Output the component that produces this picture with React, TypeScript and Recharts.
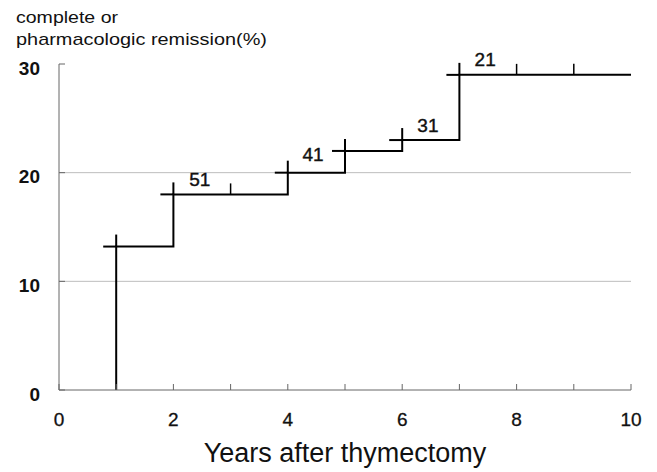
import React from 'react'
import {
  ComposedChart, Line, Scatter, XAxis, YAxis, CartesianGrid, ReferenceDot,
} from 'recharts'

// cumulative remission curve (step, drawn with vertical jumps)
const stepYears = [1, 1, 2, 4, 5, 6, 7, 10]
const stepRates = [0, 13.2, 18, 20, 22, 23, 29, 29]

// events (cross marks at each jump)
const eventYears = [1, 2, 4, 5, 6, 7]
const eventRates = [13.2, 18, 20, 22, 23, 29]

// censored (small ticks)
const censorYears = [3, 8, 9]
const censorRates = [18, 29, 29]

// numbers at risk
const riskLabels = ['51', '41', '31', '21']
const riskYears = [2.46, 4.44, 6.45, 7.45]
const riskRates = [19.4, 21.7, 24.4, 30.4]

const xTicks = [0, 1, 2, 3, 4, 5, 6, 7, 8, 9, 10]
const yTicks = [0, 10, 20, 30]
const gridValues = [10, 20]

const FONT = '"Liberation Sans", Arial, sans-serif'

const stepData = stepYears.map((x, i) => ({ x, y: stepRates[i] }))
const eventData = eventYears.map((x, i) => ({ x, y: eventRates[i] }))
const censorData = censorYears.map((x, i) => ({ x, y: censorRates[i] }))

function EventMark(props: any) {
  const { cx, cy } = props
  return (
    <g stroke="#000" strokeWidth={2} fill="none">
      <line x1={cx - 13} y1={cy} x2={cx} y2={cy} />
      <line x1={cx} y1={cy} x2={cx} y2={cy - 12} />
    </g>
  )
}

function CensorMark(props: any) {
  const { cx, cy } = props
  return <line x1={cx} y1={cy} x2={cx} y2={cy - 11} stroke="#000" strokeWidth={1.5} />
}

function YTick(props: any) {
  const { x, y, payload } = props
  return (
    <text x={x} y={y + 4} dy="0.355em" textAnchor="end" fontSize={19} fontWeight="bold"
      fill="#111" fontFamily={FONT}>
      {payload.value}
    </text>
  )
}

export default function App() {
  return (
    <div style={{ position: 'absolute', left: 0, top: 0, width: 657, height: 472, background: '#fff' }}>
      <ComposedChart width={657} height={472} margin={{ top: 64, right: 26, bottom: 0, left: 0 }}>
        <CartesianGrid vertical={false} horizontalValues={gridValues} stroke="#bdbdbd" strokeWidth={1} />
        <XAxis
          type="number" dataKey="x" domain={[0, 10]} ticks={xTicks} interval={0}
          tickFormatter={(v: number) => (v % 2 === 0 ? String(v) : '')}
          height={82} tickSize={-6} tickMargin={29}
          axisLine={{ stroke: '#666' }} tickLine={{ stroke: '#666' }}
          tick={{ fill: '#111', fontSize: 19, fontFamily: FONT, stroke: '#111', strokeWidth: 0.3 }}
          label={{ value: 'Years after thymectomy', position: 'insideBottom', offset: 10, fontSize: 27, fill: '#111', fontFamily: FONT }}
        />
        <YAxis
          type="number" dataKey="y" domain={[0, 30]} ticks={yTicks} interval={0}
          width={59} tickSize={-6} tickMargin={25}
          axisLine={{ stroke: '#666' }} tickLine={{ stroke: '#666' }}
          tick={<YTick />}
        />
        <Line
          data={stepData} dataKey="y" type="stepAfter" stroke="#000" strokeWidth={2}
          dot={false} activeDot={false} isAnimationActive={false}
        />
        <Scatter data={eventData} dataKey="y" shape={<EventMark />} isAnimationActive={false} />
        <Scatter data={censorData} dataKey="y" shape={<CensorMark />} isAnimationActive={false} />
        {riskLabels.map((t, i) => (
          <ReferenceDot
            key={t} x={riskYears[i]} y={riskRates[i]} r={0} ifOverflow="visible"
            fill="none" stroke="none"
            label={{ value: t, position: 'center', fontSize: 19, fill: '#111', stroke: '#111', strokeWidth: 0.4, fontFamily: FONT }}
          />
        ))}
      </ComposedChart>
      <svg width={657} height={60} style={{ position: 'absolute', left: 0, top: 0 }}>
        <text x={16} y={23} fontSize={17} fill="#111" fontFamily={FONT} textLength={102} lengthAdjust="spacingAndGlyphs">
          complete or
        </text>
        <text x={16} y={45} fontSize={17} fill="#111" fontFamily={FONT} textLength={251} lengthAdjust="spacingAndGlyphs">
          pharmacologic remission(%)
        </text>
      </svg>
    </div>
  )
}
